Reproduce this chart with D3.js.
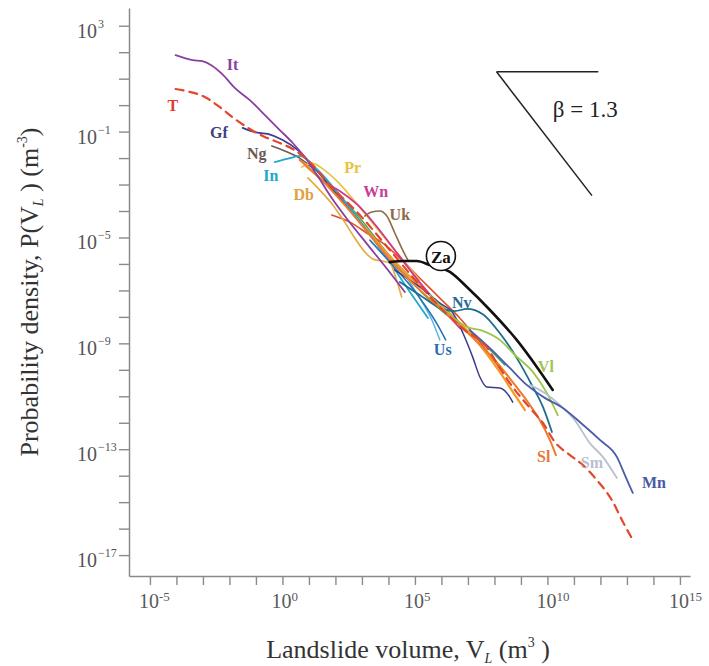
<!DOCTYPE html>
<html>
<head>
<meta charset="utf-8">
<script src="https://d3js.org/d3.v7.min.js"></script>
<style>
    body { margin: 0; background: #fff; }
    text { font-family: "Liberation Serif", "Times New Roman", serif; }
</style>
</head>
<body>
<div id="chart"></div>
<script>
var width = 709;
var height = 666;

// curves as [log10 V_L, log10 P(V_L)] pairs
var itPts = [[-4.03,1.89],[-3.39,1.70],[-3.02,1.66],[-2.67,1.50],[-2.25,1.15],[-1.80,0.65],[-1.23,0.19],[-0.67,-0.37],[-0.10,-0.94],[0.39,-1.43],[0.84,-1.96],[1.33,-2.68],[1.86,-3.51],[2.47,-4.34],[3.22,-5.28],[3.98,-6.23],[4.62,-7.06]];
var tPts = [[-4.03,0.61],[-3.50,0.50],[-2.93,0.31],[-2.37,-0.07],[-1.80,-0.52],[-1.23,-0.90],[-0.67,-1.20],[-0.10,-1.43],[0.46,-1.70],[1.03,-2.15],[1.79,-3.02],[2.92,-4.15],[4.05,-5.47],[5.18,-6.80],[6.05,-7.74],[6.88,-8.50],[7.71,-9.14],[8.20,-9.93],[8.69,-10.65],[9.34,-11.44],[9.83,-12.01],[10.28,-12.73],[10.85,-13.22],[11.34,-13.60],[11.86,-14.16],[12.43,-14.92],[12.85,-15.75],[13.22,-16.43]];
var gfPts = [[-1.50,-0.86],[-1.05,-1.02],[-0.55,-1.09],[0.01,-1.32],[0.58,-1.70],[1.22,-2.38],[1.97,-3.28],[2.92,-4.42]];
var ngPts = [[-0.40,-1.54],[0.09,-1.73],[0.65,-2.00],[1.22,-2.45]];
var inPts = [[-0.29,-2.15],[0.28,-2.00],[0.65,-1.92],[1.33,-2.45],[2.16,-3.40],[3.11,-4.64],[4.05,-5.93],[4.81,-7.06],[5.49,-8.04]];
var dbPts = [[0.96,-2.75],[1.41,-3.21],[1.90,-3.77],[2.35,-4.42],[2.73,-5.02],[3.11,-5.55],[3.41,-5.81],[3.75,-5.89],[4.05,-5.96],[4.28,-6.53],[4.50,-7.25]];
var prPts = [[0.73,-2.34],[1.11,-2.19],[1.48,-2.38],[2.09,-2.90],[2.84,-3.77],[3.67,-4.79],[4.43,-5.70],[5.18,-6.61]];
var wnPts = [[1.60,-2.94],[2.16,-3.24],[2.84,-3.77],[3.60,-4.64],[4.35,-5.62],[5.11,-6.61],[5.94,-7.59],[6.69,-8.42]];
var ukPts = [[3.11,-4.19],[3.37,-4.04],[3.67,-4.00],[3.94,-4.19],[4.24,-4.83],[4.50,-5.40],[4.73,-5.85]];
var zaPts = [[4.05,-5.93],[4.62,-5.89],[5.07,-5.89],[5.56,-6.04],[6.32,-6.30],[6.96,-6.87],[7.83,-7.74],[8.84,-8.87],[9.60,-9.89],[10.20,-10.76]];
var nvPts = [[4.43,-6.68],[5.18,-7.17],[5.94,-7.66],[6.50,-7.78],[6.96,-7.70],[7.56,-7.90],[8.20,-8.61],[8.84,-9.55],[9.45,-10.65],[9.83,-11.40],[10.17,-12.35]];
var usPts = [[3.30,-5.10],[4.05,-5.93],[4.81,-6.80],[5.37,-7.55],[5.86,-8.31],[6.16,-8.87]];
var vlPts = [[5.56,-7.17],[6.32,-7.93],[6.96,-8.38],[7.56,-8.53],[8.20,-8.87],[8.77,-9.44],[9.45,-10.08],[9.98,-10.88],[10.39,-11.71]];
var slPts = [[0.65,-2.07],[1.41,-2.75],[2.35,-3.77],[3.30,-4.91],[4.24,-6.04],[5.18,-6.98],[6.13,-7.82],[7.07,-8.68],[8.01,-9.63],[8.77,-10.57],[9.34,-11.33],[9.71,-11.90],[10.09,-12.65],[10.32,-13.22]];
var smPts = [[9.34,-10.57],[9.90,-10.88],[10.47,-11.33],[11.03,-11.90],[11.60,-12.77],[12.09,-13.29],[12.62,-14.09]];
var mnPts = [[7.07,-8.50],[7.83,-9.18],[8.58,-9.93],[9.22,-10.57],[9.90,-11.06],[10.58,-11.44],[11.22,-11.97],[11.98,-12.65],[12.62,-13.29],[12.92,-13.97],[13.22,-14.65]];

// unlabelled inventories inside the bundle
var indigoPts = [[4.24,-6.23],[5.18,-6.87],[5.94,-7.48],[6.43,-7.85],[6.81,-8.61],[7.18,-9.52],[7.45,-10.27],[7.71,-10.65],[8.20,-10.69],[8.58,-11.03],[8.69,-11.22]];
var redPts = [[1.86,-4.15],[2.54,-4.42],[3.30,-4.91],[3.79,-5.21],[4.43,-5.78],[5.18,-6.53],[5.94,-7.29],[6.69,-8.04],[7.45,-8.95],[8.20,-9.93]];
var greenPts = [[1.03,-2.19],[1.97,-3.21],[2.92,-4.26],[3.86,-5.47],[4.81,-6.61],[5.75,-7.55],[6.69,-8.31],[7.64,-9.06],[8.39,-9.82]];
var skyPts = [[3.67,-5.28],[4.43,-6.15],[5.11,-7.17],[5.64,-8.12],[5.94,-8.87]];
var orangePts = [[0.84,-2.26],[1.79,-3.13],[2.73,-4.15],[3.67,-5.28],[4.62,-6.30],[5.56,-7.17],[6.50,-8.04],[7.45,-9.06],[8.20,-10.08],[8.77,-10.95],[9.15,-11.52]];

var labelNames = ["It", "T", "Gf", "Ng", "In", "Db", "Pr", "Wn", "Uk", "Nv", "Us", "Vl", "Sl", "Sm", "Mn"];
var labelPos = [[-1.88,1.52],[-4.14,0.00],[-2.40,-1.05],[-0.97,-1.81],[-0.44,-2.64],[0.80,-3.36],[2.65,-2.34],[3.52,-3.28],[4.43,-4.15],[6.77,-7.44],[6.05,-9.25],[9.94,-9.86],[9.86,-13.29],[11.68,-13.52],[14.02,-14.24]];
var zaLabel = [5.98, -5.70];

var xTickExp = d3.range(-5, 16);
var xLabelExp = [-5, 0, 5, 10, 15];
var yTickExp = d3.range(-17, 4);
var yLabelExp = [3, -1, -5, -9, -13, -17];

// slope guide: start corner, run in decades, beta
var slopeStart = [8.08, 1.26];
var slopeRun = 3.84;
var slopeDiagRun = 3.6;
var beta = 1.3;

var series = [
    {name: "s-green", color: "#3aa65a", pts: greenPts, w: 1.5},
    {name: "s-sky", color: "#55b8e6", pts: skyPts, w: 1.5},
    {name: "s-red", color: "#e0502c", pts: redPts, w: 1.6},
    {name: "s-orange", color: "#f59a22", pts: orangePts, w: 2.2},
    {name: "Gf", color: "#3d3f8e", pts: gfPts, w: 1.8},
    {name: "Ng", color: "#6e5d56", pts: ngPts, w: 1.6},
    {name: "In", color: "#1faacb", pts: inPts, w: 1.8},
    {name: "Db", color: "#e4a93c", pts: dbPts, w: 1.6},
    {name: "Pr", color: "#e9c23a", pts: prPts, w: 1.6},
    {name: "Wn", color: "#d2348f", pts: wnPts, w: 1.8},
    {name: "Uk", color: "#8c6c46", pts: ukPts, w: 1.6},
    {name: "Us", color: "#2d72b6", pts: usPts, w: 1.6},
    {name: "s-indigo", color: "#3a3b8c", pts: indigoPts, w: 1.5},
    {name: "Nv", color: "#1c6e8c", pts: nvPts, w: 1.8},
    {name: "Vl", color: "#9cc64a", pts: vlPts, w: 1.8},
    {name: "Sl", color: "#ee7b2e", pts: slPts, w: 2},
    {name: "Sm", color: "#b9c0d0", pts: smPts, w: 1.8},
    {name: "Mn", color: "#4b5ca6", pts: mnPts, w: 1.8},
    {name: "It", color: "#8b3f9f", pts: itPts, w: 1.8},
    {name: "T", color: "#e4462d", pts: tPts, w: 2.2, dash: "8,6"},
    {name: "Za", color: "#111111", pts: zaPts, w: 2.6}
];

var labelColors = {
    It: "#8b3f9f", T: "#e4382a", Gf: "#3d3f80", Ng: "#6a5b56", In: "#1fa8c8",
    Db: "#e0a040", Pr: "#e6c23e", Wn: "#c83c98", Uk: "#8a6a48", Nv: "#2a6a96",
    Us: "#2c6cb0", Vl: "#a2c452", Sl: "#e8783a", Sm: "#b9bfce", Mn: "#4a5aa0"
};

function p10(e) { return Math.pow(10, e); }

var svg = d3.select("#chart").append("svg")
    .attr("width", width)
    .attr("height", height);

var xScale = d3.scaleLog()
    .domain([p10(-5.79), p10(15.38)])
    .range([129, 690]);

var yScale = d3.scaleLog()
    .domain([p10(3.67), p10(-17.79)])
    .range([8, 576]);

var xAxis = d3.axisBottom(xScale)
    .tickValues(xTickExp.map(p10))
    .tickSize(9)
    .tickSizeOuter(0)
    .tickFormat(function () { return ""; });

var yAxis = d3.axisLeft(yScale)
    .tickValues(yTickExp.map(p10))
    .tickSize(10)
    .tickSizeOuter(0)
    .tickFormat(function () { return ""; });

var gx = svg.append("g")
    .attr("transform", "translate(0," + 576 + ")")
    .call(xAxis);
var gy = svg.append("g")
    .attr("transform", "translate(" + 129 + ",0)")
    .call(yAxis);

[gx, gy].forEach(function (g) {
    g.select(".domain").attr("stroke", "#8a8a8a").attr("stroke-width", 1.5);
    g.selectAll(".tick line").attr("stroke", "#8a8a8a").attr("stroke-width", 1.4);
});

// power-of-ten tick labels
xLabelExp.forEach(function (e) {
    var px = xScale(p10(e));
    var t = svg.append("text")
        .attr("y", 608)
        .attr("fill", "#5a5a5a")
        .style("font-size", "20px");
    t.append("tspan").attr("x", px - 11).text("10");
    t.append("tspan").attr("dy", -7).style("font-size", "13px").text(e);
});

yLabelExp.forEach(function (e) {
    var py = yScale(p10(e));
    svg.append("text")
        .attr("x", 97)
        .attr("y", py + 12)
        .attr("text-anchor", "end")
        .attr("fill", "#555")
        .style("font-size", "20px")
        .text("10");
    svg.append("text")
        .attr("x", 98)
        .attr("y", py + 2)
        .attr("fill", "#555")
        .style("font-size", "12px")
        .text(e < 0 ? "\u2212" + Math.abs(e) : e);
});

// axis titles
var xt = svg.append("text")
    .attr("x", 408)
    .attr("y", 658)
    .attr("text-anchor", "middle")
    .attr("fill", "#333")
    .style("font-size", "26px");
xt.append("tspan").text("Landslide volume, V");
xt.append("tspan").attr("dy", 5).style("font-size", "14px").style("font-style", "italic").text("L");
xt.append("tspan").attr("dy", -5).text(" (m");
xt.append("tspan").attr("dy", -11).style("font-size", "14px").text("3");
xt.append("tspan").attr("dy", 11).text(" )");

var yt = svg.append("text")
    .attr("transform", "translate(38,292) rotate(-90)")
    .attr("text-anchor", "middle")
    .attr("fill", "#333")
    .style("font-size", "26px");
yt.append("tspan").text("Probability density, P(V");
yt.append("tspan").attr("dy", 5).style("font-size", "14px").style("font-style", "italic").text("L");
yt.append("tspan").attr("dy", -5).text(" ) (m");
yt.append("tspan").attr("dy", -11).style("font-size", "14px").text("-3");
yt.append("tspan").attr("dy", 11).text(")");

// curves
var line = d3.line()
    .x(function (d) { return xScale(p10(d[0])); })
    .y(function (d) { return yScale(p10(d[1])); })
    .curve(d3.curveMonotoneX);

svg.append("g").selectAll("path")
    .data(series).enter().append("path")
    .attr("d", function (d) { return line(d.pts); })
    .attr("fill", "none")
    .attr("stroke", function (d) { return d.color; })
    .attr("stroke-width", function (d) { return d.w; })
    .attr("stroke-dasharray", function (d) { return d.dash || null; })
    .attr("stroke-linecap", "round")
    .attr("stroke-linejoin", "round");

// inventory labels
svg.append("g").selectAll("text")
    .data(labelNames).enter().append("text")
    .attr("x", function (d, i) { return xScale(p10(labelPos[i][0])); })
    .attr("y", function (d, i) { return yScale(p10(labelPos[i][1])); })
    .attr("text-anchor", "middle")
    .attr("dominant-baseline", "central")
    .attr("fill", function (d) { return labelColors[d]; })
    .style("font-size", "16px")
    .style("font-weight", "bold")
    .text(function (d) { return d; });

var zx = xScale(p10(zaLabel[0]));
var zy = yScale(p10(zaLabel[1]));
svg.append("circle")
    .attr("cx", zx).attr("cy", zy).attr("r", 14.5)
    .attr("fill", "#fff")
    .attr("stroke", "#111")
    .attr("stroke-width", 1.6);
svg.append("text")
    .attr("x", zx).attr("y", zy + 1)
    .attr("text-anchor", "middle")
    .attr("dominant-baseline", "central")
    .attr("fill", "#111")
    .style("font-size", "17px")
    .style("font-weight", "bold")
    .text("Za");

// slope triangle for beta
var sx0 = xScale(p10(slopeStart[0]));
var sy0 = yScale(p10(slopeStart[1]));
svg.append("line")
    .attr("x1", sx0).attr("y1", sy0)
    .attr("x2", xScale(p10(slopeStart[0] + slopeRun))).attr("y2", sy0)
    .attr("stroke", "#222").attr("stroke-width", 1.5);
svg.append("line")
    .attr("x1", sx0).attr("y1", sy0)
    .attr("x2", xScale(p10(slopeStart[0] + slopeDiagRun)))
    .attr("y2", yScale(p10(slopeStart[1] - beta * slopeDiagRun)))
    .attr("stroke", "#222").attr("stroke-width", 1.5);
svg.append("text")
    .attr("x", xScale(p10(10.2)))
    .attr("y", yScale(p10(-0.45)))
    .attr("fill", "#222")
    .style("font-size", "23px")
    .text("\u03b2 = " + beta);
</script>
</body>
</html>
